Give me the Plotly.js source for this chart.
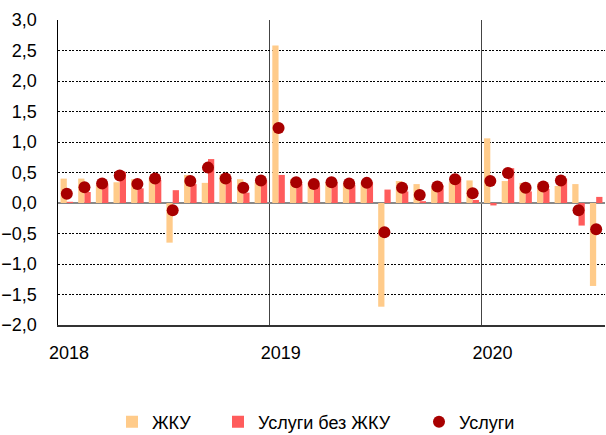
<!DOCTYPE html>
<html>
<head>
<meta charset="utf-8">
<script src="https://cdn.plot.ly/plotly-3.0.1.min.js"></script>
<style>html,body{margin:0;padding:0;background:#fff;}#chart{width:606px;height:435px;}</style>
</head>
<body>
<div id="chart"></div>
<script>
// Monthly data, Jan 2018 – Jul 2020 (%, m/m)
const yearTicks = ['2018', '2019', '2020'];
const yearStartIndex = [0, 12, 24];
const zhku = [0.40, 0.40, 0.30, 0.34, 0.39, 0.42, -0.65, 0.46, 0.33, 0.46, 0.39, 0.34,
              2.58, 0.39, 0.34, 0.34, 0.32, 0.33, -1.70, 0.36, 0.31, 0.26, 0.34, 0.37,
              1.06, 0.36, 0.33, 0.32, 0.28, 0.31, -1.36];
const uslugiBezZhku = [0.02, 0.18, 0.31, 0.51, 0.24, 0.38, 0.21, 0.31, 0.72, 0.37, 0.17, 0.37,
                       0.46, 0.32, 0.29, 0.34, 0.30, 0.34, 0.22, 0.19, 0.03, 0.29, 0.43, 0.05,
                       -0.04, 0.57, 0.19, 0.23, 0.40, -0.37, 0.10];
const uslugi = [0.15, 0.26, 0.32, 0.45, 0.31, 0.40, -0.12, 0.36, 0.58, 0.40, 0.25, 0.37,
                1.23, 0.34, 0.31, 0.34, 0.32, 0.33, -0.48, 0.25, 0.13, 0.27, 0.39, 0.16,
                0.36, 0.49, 0.25, 0.27, 0.37, -0.12, -0.43];

const x = zhku.map((_, i) => i);
const font = 'Arial, "Liberation Sans", sans-serif';

const traces = [
  {type: 'bar', name: 'ЖКУ', x: x, y: zhku, marker: {color: '#FFCB8A'}, legend: 'legend'},
  {type: 'bar', name: 'Услуги без ЖКУ', x: x, y: uslugiBezZhku, marker: {color: '#FF5C5C'}, legend: 'legend2'},
  {type: 'scatter', mode: 'markers', name: 'Услуги', x: x, y: uslugi,
   marker: {color: '#A80000', size: 12}, legend: 'legend3'}
];

const legendBase = {orientation: 'h', xref: 'container', yref: 'container', xanchor: 'left', yanchor: 'middle',
  y: 0.03, bgcolor: 'rgba(0,0,0,0)', borderwidth: 0, font: {family: font, size: 18, color: '#000'}};

const layout = {
  width: 606, height: 435,
  margin: {l: 58, r: 1, t: 20, b: 110},
  paper_bgcolor: '#fff', plot_bgcolor: '#fff',
  separators: ', ',
  barmode: 'group', bargap: 0.29, bargroupgap: 0,
  font: {family: font, size: 18, color: '#000'},
  showlegend: true,
  legend: Object.assign({}, legendBase, {x: 112 / 606}),
  legend2: Object.assign({}, legendBase, {x: 218 / 606}),
  legend3: Object.assign({}, legendBase, {x: 419 / 606}),
  xaxis: {
    type: 'linear', range: [-0.5, 30.5],
    tickmode: 'array', tickvals: yearStartIndex.map(v => v - 0.5), ticktext: yearTicks,
    showgrid: true, gridcolor: '#444', gridwidth: 1.2,
    zeroline: false, showline: true, linecolor: '#333', linewidth: 1.5,
    ticks: '', ticklabelshift: 11, ticklabelstandoff: 11,
    tickfont: {family: font, size: 18, color: '#000'}, fixedrange: true
  },
  yaxis: {
    range: [-2, 3], dtick: 0.5, tick0: 0, tickformat: '.1f',
    showgrid: true, gridcolor: '#000', gridwidth: 1, griddash: '2px,1.5px',
    zeroline: true, zerolinecolor: '#888', zerolinewidth: 2,
    showline: true, linecolor: '#000', linewidth: 1.5,
    ticks: '', ticklabelstandoff: 16,
    tickfont: {family: font, size: 18, color: '#000'}, fixedrange: true
  }
};

Plotly.newPlot('chart', traces, layout, {displayModeBar: false, staticPlot: true});
</script>
</body>
</html>
